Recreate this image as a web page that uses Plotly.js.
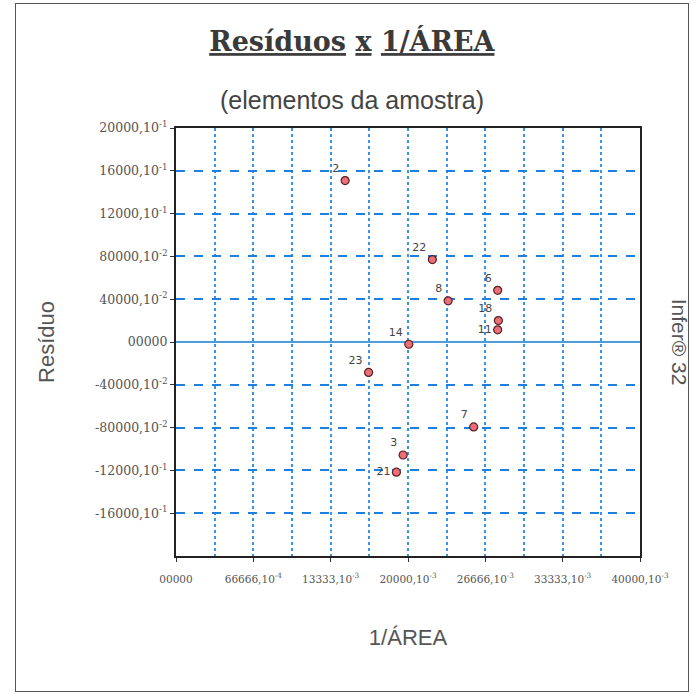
<!DOCTYPE html>
<html>
<head>
<meta charset="utf-8">
<script src="https://cdn.plot.ly/plotly-3.0.1.min.js"></script>
<style>
html,body{margin:0;padding:0;background:#fff;}
#wrap{position:relative;width:694px;height:694px;}
#chart{position:absolute;left:0;top:0;width:694px;height:694px;}
#frame{position:absolute;left:15px;top:3px;width:672px;height:687px;border:1.5px solid #555;pointer-events:none;}
</style>
</head>
<body>
<div id="wrap"><div id="chart"></div><div id="frame"></div></div>
<script>
// Data
const pointLabels = ["2", "22", "8", "6", "18", "11", "14", "23", "7", "3", "21"];
const invArea = [0.001458, 0.00221, 0.002346, 0.002773, 0.002779, 0.002773, 0.002007, 0.00166, 0.002566, 0.001958, 0.0019];
const residuo = [0.1509, 0.0770, 0.0385, 0.0483, 0.0200, 0.0114, -0.0021, -0.0284, -0.0794, -0.1056, -0.1217];
const labelPos = ["top left", "top left", "top left", "top left", "top left", "middle left", "top left", "top left", "top left", "top left", "middle left"];

const xTickVals = [0, 0.00066667, 0.00133333, 0.002, 0.00266667, 0.00333333, 0.004];
const xTickText = ["00000", "66666,10<sup>-4</sup>", "13333,10<sup>-3</sup>", "20000,10<sup>-3</sup>", "26666,10<sup>-3</sup>", "33333,10<sup>-3</sup>", "40000,10<sup>-3</sup>"];
const yTickVals = [-0.16, -0.12, -0.08, -0.04, 0, 0.04, 0.08, 0.12, 0.16, 0.2];
const yTickText = ["-16000,10<sup>-1</sup>", "-12000,10<sup>-1</sup>", "-80000,10<sup>-2</sup>", "-40000,10<sup>-2</sup>", "00000", "40000,10<sup>-2</sup>", "80000,10<sup>-2</sup>", "12000,10<sup>-1</sup>", "16000,10<sup>-1</sup>", "20000,10<sup>-1</sup>"];

const trace = {
  type: 'scatter',
  mode: 'markers+text',
  x: invArea,
  y: residuo,
  text: pointLabels,
  textposition: labelPos,
  textfont: {family: 'DejaVu Sans', size: 11, color: '#444'},
  marker: {symbol: 'circle', size: 8, color: 'rgb(234,111,120)', line: {color: 'rgb(90,32,32)', width: 1.2}},
  hoverinfo: 'x+y+text',
  cliponaxis: false
};

const layout = {
  width: 694, height: 694,
  margin: {l: 176, r: 54, t: 128, b: 138},
  paper_bgcolor: 'rgba(255,255,255,0)', plot_bgcolor: 'rgb(255,255,255)',
  showlegend: false,
  title: {
    text: '<b><span style="text-decoration:underline">Resíduos</span> <span style="text-decoration:underline">x</span> <span style="text-decoration:underline">1/ÁREA</span></b>',
    font: {family: 'DejaVu Serif', size: 27, color: 'rgb(58,58,58)'},
    x: 0.507, xanchor: 'center', y: 0.94, yanchor: 'middle'
  },
  xaxis: {
    range: [0, 0.004],
    tickvals: xTickVals, ticktext: xTickText,
    tickfont: {family: 'DejaVu Serif', size: 10.5, color: 'rgb(85,85,85)'},
    ticks: 'outside', ticklen: 4, tickcolor: 'rgb(51,51,51)',
    ticklabelstandoff: 8,
    showline: true, mirror: true, linecolor: 'rgb(34,34,34)', linewidth: 2,
    showgrid: true, gridcolor: 'rgb(58,148,230)', griddash: 'dot', gridwidth: 2,
    minor: {dtick: 0.00033333, tick0: 0, showgrid: true, gridcolor: 'rgb(58,148,230)', griddash: 'dot', gridwidth: 2, ticks: ''},
    zeroline: false,
    title: {text: '1/ÁREA', font: {family: 'Liberation Sans', size: 22, color: 'rgb(85,85,85)'}, standoff: 46}
  },
  yaxis: {
    range: [-0.2, 0.2],
    tickvals: yTickVals, ticktext: yTickText,
    tickfont: {family: 'DejaVu Serif', size: 12.5, color: 'rgb(85,85,85)'},
    ticks: 'outside', ticklen: 4, tickcolor: 'rgb(51,51,51)',
    showline: true, mirror: true, linecolor: 'rgb(34,34,34)', linewidth: 2,
    showgrid: true, gridcolor: 'rgb(31,127,224)', griddash: 'dash', gridwidth: 2,
    zeroline: true, zerolinecolor: 'rgb(74,158,224)', zerolinewidth: 1.5,
    title: {text: 'Resíduo', font: {family: 'Liberation Sans', size: 22, color: 'rgb(85,85,85)'}, standoff: 34}
  },
  annotations: [
    {text: '(elementos da amostra)', xref: 'paper', yref: 'paper', x: 0.379, y: 1.065, xanchor: 'center', yanchor: 'middle', showarrow: false,
     font: {family: 'Liberation Sans', size: 25, color: 'rgb(68,68,68)'}},
    {text: 'Infer® 32', xref: 'paper', yref: 'paper', x: 1.087, y: 0.5, xanchor: 'center', yanchor: 'middle', showarrow: false, textangle: 90,
     font: {family: 'Liberation Sans', size: 21, color: 'rgb(85,85,85)'}}
  ]
};

Plotly.newPlot('chart', [trace], layout, {displayModeBar: false, staticPlot: true});
</script>
</body>
</html>
